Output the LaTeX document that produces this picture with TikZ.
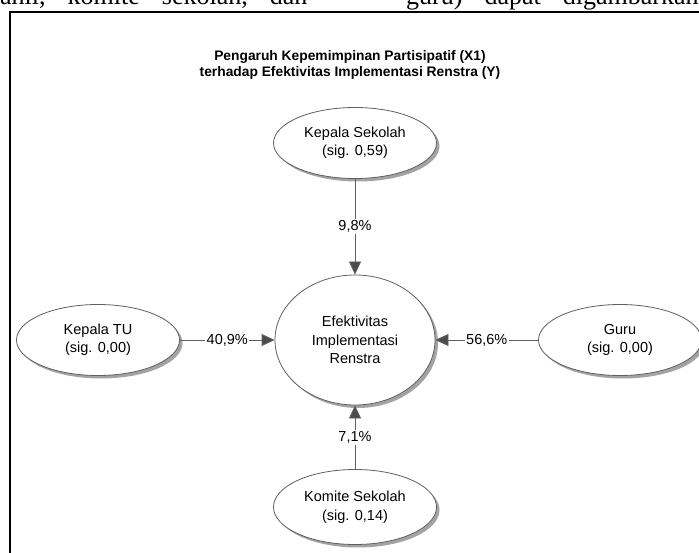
\documentclass[tikz,border=0pt]{standalone}
\usepackage{fontspec}
\setmainfont{Liberation Sans}
\newfontfamily\bodyserif{Liberation Serif}
\usetikzlibrary{shapes.geometric, arrows.meta, positioning, shadows}
\definecolor{rimgray}{RGB}{95,95,95}
\definecolor{tipgray}{RGB}{75,75,75}
\definecolor{shadegray}{RGB}{140,140,140}
\newcommand{\widegaps}{\spaceskip 22pt\relax}

\begin{document}
\begin{tikzpicture}[x=1pt, y=-1pt,
  factor/.style={ellipse, draw=rimgray, fill=white, line width=0.8pt,
    minimum width=163pt, minimum height=71pt, inner sep=0pt, align=center,
    font=\fontsize{14.5}{18.5}\selectfont,
    drop shadow={shadow xshift=3pt, shadow yshift=-3pt, fill=shadegray, opacity=0.8}},
  effect/.style={draw=rimgray, line width=0.8pt,
    -{Triangle[length=13pt, width=12pt, fill=tipgray]}},
  pct/.style={fill=white, inner sep=1.5pt, font=\fontsize{14.5}{16}\selectfont},
  pagetext/.style={anchor=base west, inner sep=0pt,
    font=\bodyserif\fontsize{26}{26}\selectfont}]
  \useasboundingbox (0,0) rectangle (699,553);
  \clip (0,0) rectangle (699,553);
  % cut-off line of the page text above the frame
  \node[pagetext] (textleft) at (0,5) {\widegaps ahli, komite sekolah, dan};
  \node[pagetext] (textright) at (406,5) {\widegaps guru) dapat digambarkan};
  \draw[line width=2pt] (10,12) rectangle (720,720);
  \node[align=center, font=\bfseries\fontsize{13.8}{16.5}\selectfont] (title) at (350,65)
    {Pengaruh Kepemimpinan Partisipatif (X1)\\terhadap Efektivitas Implementasi Renstra (Y)};
  % factors and the outcome
  \node[factor] (ks) at (355,143) {Kepala Sekolah\\(sig. 0,59)};
  \node[factor, minimum width=160pt, minimum height=130pt] (y) at (355,340)
    {Efektivitas\\Implementasi\\Renstra};
  \node[factor] (tu) at (98,340) {Kepala TU\\(sig. 0,00)};
  \node[factor] (guru) at (620,340) {Guru\\(sig. 0,00)};
  \node[factor, minimum height=75pt] (komite) at (355,507) {Komite Sekolah\\(sig. 0,14)};
  % contributions
  \draw[effect] (ks) -- node[pct] (pks) {9,8\%} (y);
  \draw[effect] (tu) -- node[pct] (ptu) {40,9\%} (y);
  \draw[effect] (guru) -- node[pct] (pguru) {56,6\%} (y);
  \draw[effect] (komite) -- node[pct] (pkomite) {7,1\%} (y);
\end{tikzpicture}
\end{document}
